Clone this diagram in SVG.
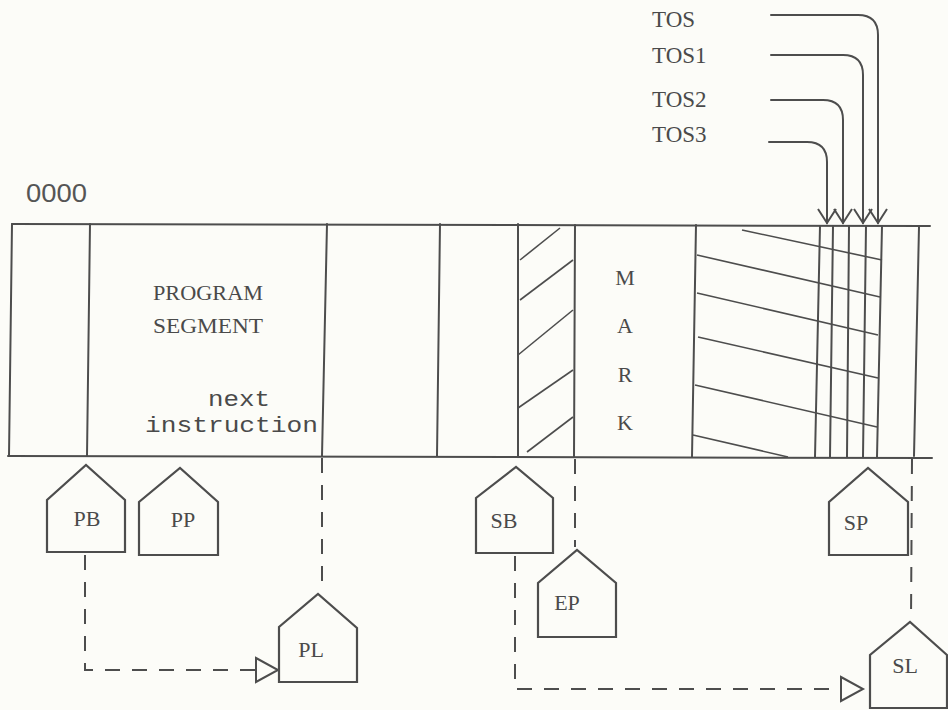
<svg xmlns="http://www.w3.org/2000/svg" width="948" height="710" viewBox="0 0 948 710">
<style>
.ln{stroke:#4d4d4d;stroke-width:2;fill:none;stroke-linecap:round}
.thin{stroke:#4d4d4d;stroke-width:1.6;fill:none}
.dash{stroke:#4d4d4d;stroke-width:2;fill:none;stroke-dasharray:15 12}
.box{stroke:#4d4d4d;stroke-width:2.2;fill:#fcfcf8;stroke-linejoin:miter}
.serif{font-family:"Liberation Serif","DejaVu Serif",serif;fill:#4a4a4a}
.mono{font-family:"Liberation Mono","DejaVu Sans Mono",monospace;fill:#4a4a4a}
.sans{font-family:"Liberation Sans","DejaVu Sans",sans-serif;fill:#555}
.lbl{font-size:22px;text-anchor:middle}
</style>
<defs>
<marker id="vhead" viewBox="-16 -12 20 24" markerWidth="20" markerHeight="24" refX="0" refY="0" orient="auto" markerUnits="userSpaceOnUse" overflow="visible">
<path d="M-14,-9 L0,0 L-14,9" fill="none" stroke="#4d4d4d" stroke-width="2"/>
</marker>
<marker id="tri" viewBox="-24 -14 26 28" markerWidth="26" markerHeight="28" refX="0" refY="0" orient="auto" markerUnits="userSpaceOnUse" overflow="visible">
<path d="M-22,-12 L0,0 L-22,12 Z" fill="#fcfcf8" stroke="#4d4d4d" stroke-width="2" stroke-dasharray="none"/>
</marker>
</defs>
<rect x="0" y="0" width="948" height="710" fill="#fcfcf8"/>

<g id="address-label">
<text class="sans" x="26" y="202" font-size="25" textLength="61" lengthAdjust="spacingAndGlyphs">0000</text>
</g>

<g id="memory">
<line class="ln" x1="12" y1="224" x2="930" y2="226"/>
<line class="ln" x1="8" y1="456" x2="932" y2="458"/>
<line class="ln" x1="12" y1="224" x2="9" y2="456"/>
<line class="ln" x1="90" y1="224" x2="87" y2="456"/>
<line class="ln" x1="327" y1="224" x2="322" y2="456"/>
<line class="ln" x1="440" y1="224" x2="437" y2="456"/>
<line class="ln" x1="518" y1="224" x2="518" y2="457"/>
<line class="ln" x1="575" y1="225" x2="574" y2="457"/>
<line class="ln" x1="696" y1="225" x2="692" y2="457"/>
<line class="ln" x1="820" y1="226" x2="815" y2="457"/>
<line class="ln" x1="833" y1="226" x2="830" y2="457"/>
<line class="ln" x1="849" y1="226" x2="847" y2="457"/>
<line class="ln" x1="866" y1="226" x2="863" y2="457"/>
<line class="ln" x1="882" y1="226" x2="877" y2="457"/>
<line class="ln" x1="919" y1="227" x2="914" y2="456"/>
<g id="hatch-env">
<line class="thin" x1="520" y1="260" x2="560" y2="228"/>
<line class="thin" x1="520" y1="300" x2="573" y2="260"/>
<line class="thin" x1="518" y1="355" x2="573" y2="310"/>
<line class="thin" x1="518" y1="408" x2="573" y2="370"/>
<line class="thin" x1="527" y1="452" x2="573" y2="417"/>
</g>
<g id="hatch-stack">
<line class="thin" x1="742" y1="230" x2="882" y2="260"/>
<line class="thin" x1="697" y1="255" x2="880" y2="297"/>
<line class="thin" x1="697" y1="293" x2="878" y2="335"/>
<line class="thin" x1="698" y1="337" x2="878" y2="378"/>
<line class="thin" x1="695" y1="385" x2="877" y2="427"/>
<line class="thin" x1="693" y1="435" x2="788" y2="457"/>
</g>
<text class="serif" x="153" y="300" font-size="22" textLength="110" lengthAdjust="spacingAndGlyphs">PROGRAM</text>
<text class="serif" x="153" y="333" font-size="22" textLength="110" lengthAdjust="spacingAndGlyphs">SEGMENT</text>
<text class="mono" x="208" y="406" font-size="22" textLength="62" lengthAdjust="spacingAndGlyphs">next</text>
<text class="mono" x="145" y="432" font-size="22" textLength="173" lengthAdjust="spacingAndGlyphs">instruction</text>
<text class="serif lbl" x="625" y="285">M</text>
<text class="serif lbl" x="625" y="333">A</text>
<text class="serif lbl" x="625" y="382">R</text>
<text class="serif lbl" x="625" y="430">K</text>
</g>

<g id="tos-labels">
<text class="serif" x="652" y="27" font-size="23">TOS</text>
<text class="serif" x="652" y="63" font-size="23">TOS1</text>
<text class="serif" x="652" y="107" font-size="23">TOS2</text>
<text class="serif" x="652" y="142" font-size="23">TOS3</text>
</g>

<g id="connectors">
<path class="ln" d="M771,15 H858 Q878,15 878,35 V223" marker-end="url(#vhead)"/>
<path class="ln" d="M771,55 H843 Q863,55 863,75 V223" marker-end="url(#vhead)"/>
<path class="ln" d="M771,100 H823 Q843,100 843,120 V223" marker-end="url(#vhead)"/>
<path class="ln" d="M769,142 H807 Q827,142 827,162 V223" marker-end="url(#vhead)"/>
<line class="dash" x1="322" y1="458" x2="322" y2="590"/>
<line class="dash" x1="575" y1="459" x2="575" y2="547"/>
<line class="dash" x1="912" y1="459" x2="911" y2="620"/>
<path class="dash" d="M85,555 V670 H278" marker-end="url(#tri)"/>
<path class="dash" d="M515,556 V689 H863" marker-end="url(#tri)"/>
</g>

<g id="PB">
<path class="box" d="M47,552 V500 L86,465 L125,500 V552 Z"/>
<text class="serif lbl" x="87" y="526">PB</text>
</g>
<g id="PP">
<path class="box" d="M139,555 V502 L180,468 L218,502 V555 Z"/>
<text class="serif lbl" x="183" y="527">PP</text>
</g>
<g id="PL">
<path class="box" d="M279,682 V627 L318,594 L357,628 V682 Z"/>
<text class="serif lbl" x="311" y="657">PL</text>
</g>
<g id="SB">
<path class="box" d="M476,553 V498 L516,467 L553,498 V553 Z"/>
<text class="serif lbl" x="504" y="528">SB</text>
</g>
<g id="EP">
<path class="box" d="M538,637 V583 L577,550 L616,583 V637 Z"/>
<text class="serif lbl" x="567" y="610">EP</text>
</g>
<g id="SP">
<path class="box" d="M829,555 V502 L868,468 L908,502 V555 Z"/>
<text class="serif lbl" x="856" y="530">SP</text>
</g>
<g id="SL">
<path class="box" d="M870,708 V655 L910,622 L947,655 V708 Z"/>
<text class="serif lbl" x="905" y="673">SL</text>
</g>
</svg>
